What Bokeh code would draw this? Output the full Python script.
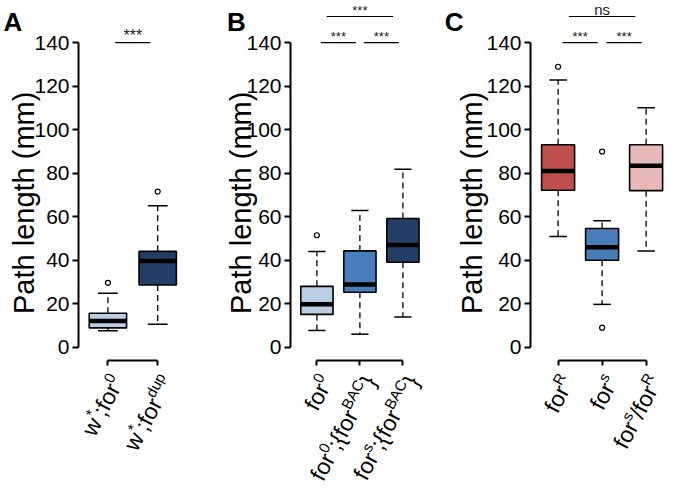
import math
from bokeh.plotting import figure
from bokeh.layouts import row
from bokeh.models import ColumnDataSource, LabelSet, Label, FixedTicker, Range1d
from bokeh.core.properties import value
from bokeh.embed import file_html
from bokeh.resources import INLINE

# ---------------- data ----------------
a_labels = ["w^(*);for^(0)", "w^(*);for^(dup)"]
a_lo = [7.5, 10.5]
a_q1 = [8.8, 28.5]
a_med = [12.0, 39.5]
a_q3 = [15.5, 44.0]
a_hi = [24.7, 65.0]
a_out_x = [1, 2]
a_out_y = [29.5, 71.5]
a_colors = ["#b9cde5", "#243f66"]
a_sig_pairs = [(1, 2)]
a_sig_text = ["***"]
a_sig_level = [140]

b_labels = ["for^(0)", "for^(0);{for^(BAC)}", "for^(s);{for^(BAC)}"]
b_lo = [7.6, 5.9, 13.8]
b_q1 = [15.0, 25.2, 39.0]
b_med = [19.7, 28.7, 46.9]
b_q3 = [27.9, 44.2, 59.1]
b_hi = [43.9, 62.8, 81.8]
b_out_x = [1]
b_out_y = [51.4]
b_colors = ["#b9cde5", "#4a7ebb", "#243f66"]
b_sig_pairs = [(1, 2), (2, 3), (1, 3)]
b_sig_text = ["***", "***", "***"]
b_sig_level = [140, 140, 152]

c_labels = ["for^(R)", "for^(s)", "for^(s)/for^(R)"]
c_lo = [50.8, 19.6, 44.1]
c_q1 = [72.1, 39.9, 71.9]
c_med = [81.0, 45.9, 83.4]
c_q3 = [93.0, 54.5, 93.0]
c_hi = [122.8, 58.1, 110.0]
c_out_x = [1, 2, 2]
c_out_y = [128.9, 89.9, 8.9]
c_colors = ["#c0504d", "#4a7ebb", "#e6b9b8"]
c_sig_pairs = [(1, 2), (2, 3), (1, 3)]
c_sig_text = ["***", "***", "ns"]
c_sig_level = [140, 140, 152]

y_ticks = [0, 20, 40, 60, 80, 100, 120, 140]
y_title = "Path length (mm)"
panel_letters = ["A", "B", "C"]

# ---------------- layout ----------------
H = 484
FB = 360.0          # x-axis (bracket) pixel row, from top
Y0PX = 346.5        # pixel of value 0
Y140PX = 42.1       # pixel of value 140
PPY = (Y0PX - Y140PX) / 140.0
Y_START = -(H - Y0PX) / PPY
Y_END = Y0PX / PPY
FONT = "Liberation Sans"

CW = {'w': .722, '*': .389, ';': .278, 'f': .278, 'o': .556, 'r': .333, '0': .556,
      'd': .556, 'u': .556, 'p': .556, '{': .334, '}': .334, 'B': .667, 'A': .667,
      'C': .722, 's': .5, 'R': .722, '/': .278}


def parse(lbl):
    parts, i = [], 0
    while i < len(lbl):
        if lbl.startswith("^(", i):
            j = lbl.index(")", i)
            parts.append((lbl[i + 2:j], True))
            i = j + 1
        else:
            j = lbl.find("^(", i)
            if j < 0:
                j = len(lbl)
            parts.append((lbl[i:j], False))
            i = j
    return parts


def panel(width, axpx, x1px, sp, letter, letter_px, title_px,
          labels, lo, q1, med, q3, hi, out_x, out_y, colors,
          sig_pairs, sig_text, sig_level, star_size):
    n = len(labels)
    xs0 = 1 - x1px / sp
    xs1 = xs0 + width / sp

    def dx(px):
        return xs0 + px / sp

    def dy(py):
        return Y_END - py / PPY

    p = figure(width=width, height=H, x_range=Range1d(xs0, xs1),
               y_range=Range1d(Y_START, Y_END), output_backend="svg",
               toolbar_location=None, min_border=0)
    p.outline_line_color = None
    p.grid.visible = False
    p.title.visible = False

    xs = list(range(1, n + 1))
    bw = 0.75
    cw = 0.4
    # whiskers
    p.segment(x0=xs, y0=q3, x1=xs, y1=hi, line_color="black", line_width=1.3, line_dash="6 4")
    p.segment(x0=xs, y0=q1, x1=xs, y1=lo, line_color="black", line_width=1.3, line_dash="6 4")
    p.segment(x0=[x - cw / 2 for x in xs], y0=hi, x1=[x + cw / 2 for x in xs], y1=hi,
              line_color="black", line_width=1.5)
    p.segment(x0=[x - cw / 2 for x in xs], y0=lo, x1=[x + cw / 2 for x in xs], y1=lo,
              line_color="black", line_width=1.5)
    # boxes
    p.vbar(x=xs, width=bw, bottom=q1, top=q3, fill_color=colors, line_color="black", line_width=1.6)
    p.segment(x0=[x - bw / 2 for x in xs], y0=med, x1=[x + bw / 2 for x in xs], y1=med,
              line_color="black", line_width=4.5)
    # outliers
    p.scatter(x=out_x, y=out_y, marker="circle", size=5, fill_color="white",
              line_color="black", line_width=1.2)

    # significance
    for (i, j), t, lev in zip(sig_pairs, sig_text, sig_level):
        half = (18 if j - i == 1 else 34) * 0.9765 / sp
        mid = (i + j) / 2
        p.segment(x0=[mid - half], y0=[lev], x1=[mid + half], y1=[lev], line_color="black", line_width=1.2)
        if t == "ns":
            fs, up = 15, 7
        else:
            fs, up = star_size, (7.5 if star_size > 14 else 6)
        p.text(x=[mid], y=[lev + up / PPY], text=[t], text_align="center", text_baseline="alphabetic",
               text_font=value(FONT), text_font_size=f"{fs}px", text_color="#222222")

    # axes (floating at fixed locations)
    ya = p.yaxis[0]
    ya.fixed_location = dx(axpx)
    ya.ticker = FixedTicker(ticks=y_ticks)
    ya.bounds = (0, 140)
    ya.axis_line_width = 2
    ya.major_tick_line_width = 2
    ya.major_tick_out = 6
    ya.major_tick_in = 0
    ya.minor_tick_line_color = None
    ya.major_label_text_font = FONT
    ya.major_label_text_font_size = "21px"
    ya.major_label_text_color = "black"
    ya.major_label_standoff = 3

    xa = p.xaxis[0]
    xa.fixed_location = dy(FB)
    xa.ticker = FixedTicker(ticks=xs)
    xa.bounds = (1, n)
    xa.axis_line_width = 2
    xa.major_tick_line_width = 2
    xa.major_tick_out = 5
    xa.major_tick_in = 0
    xa.minor_tick_line_color = None
    xa.major_label_text_color = None

    # y title
    p.add_layout(Label(x=dx(title_px), y=dy(202.3), text=y_title, angle=math.pi / 2,
                       text_font=FONT, text_font_size="29px", text_align="center",
                       text_baseline="middle", text_color="black"))

    # rotated category labels with superscripts
    F, FS, RAISE = 23, 15, 10
    th = math.radians(62)
    d = (math.cos(th), -math.sin(th))
    u = (-math.sin(th), -math.cos(th))
    lx, ly, lt, lf = [], [], [], []
    for k, lbl in enumerate(labels):
        parts = parse(lbl)
        widths = [sum(CW[c] for c in t) * (FS if sup else F) for t, sup in parts]
        total = sum(widths)
        tick_px = (xs[k] - xs0) * sp
        ax, ay = tick_px + 10, FB + 17
        ex = ax - 0.35 * F * u[0]
        ey = ay - 0.35 * F * u[1]
        s = -total
        for (t, sup), w in zip(parts, widths):
            px = ex + s * d[0] + (RAISE * u[0] if sup else 0)
            py = ey + s * d[1] + (RAISE * u[1] if sup else 0)
            s += w
            lx.append(dx(px))
            ly.append(dy(py))
            lt.append(t)
            lf.append(f"{FS if sup else F}px")
    src = ColumnDataSource(dict(x=lx, y=ly, text=lt, fs=lf))
    p.add_layout(LabelSet(x="x", y="y", text="text", source=src, angle=th,
                          text_font=value(FONT), text_font_size="fs",
                          text_align="left", text_baseline="alphabetic", text_color="black"))

    # panel letter
    p.add_layout(Label(x=dx(letter_px), y=dy(21.5), text=letter, text_font=FONT,
                       text_font_size="26px", text_font_style="bold", text_align="left",
                       text_baseline="alphabetic", text_color="black"))
    return p


pa = panel(210, 78, 107.4, 49.8, panel_letters[0], 3, 23.5,
           a_labels, a_lo, a_q1, a_med, a_q3, a_hi, a_out_x, a_out_y, a_colors,
           a_sig_pairs, a_sig_text, a_sig_level, 16)
pb = panel(231, 80, 106.4, 43.0, panel_letters[1], 16.5, 30.5,
           b_labels, b_lo, b_q1, b_med, b_q3, b_hi, b_out_x, b_out_y, b_colors,
           b_sig_pairs, b_sig_text, b_sig_level, 13)
pc = panel(223, 89, 116.6, 44.0, panel_letters[2], 3.3, 30.8,
           c_labels, c_lo, c_q1, c_med, c_q3, c_hi, c_out_x, c_out_y, c_colors,
           c_sig_pairs, c_sig_text, c_sig_level, 13)

layout = row(pa, pb, pc)
open("out.html", "w").write(file_html(layout, INLINE))
